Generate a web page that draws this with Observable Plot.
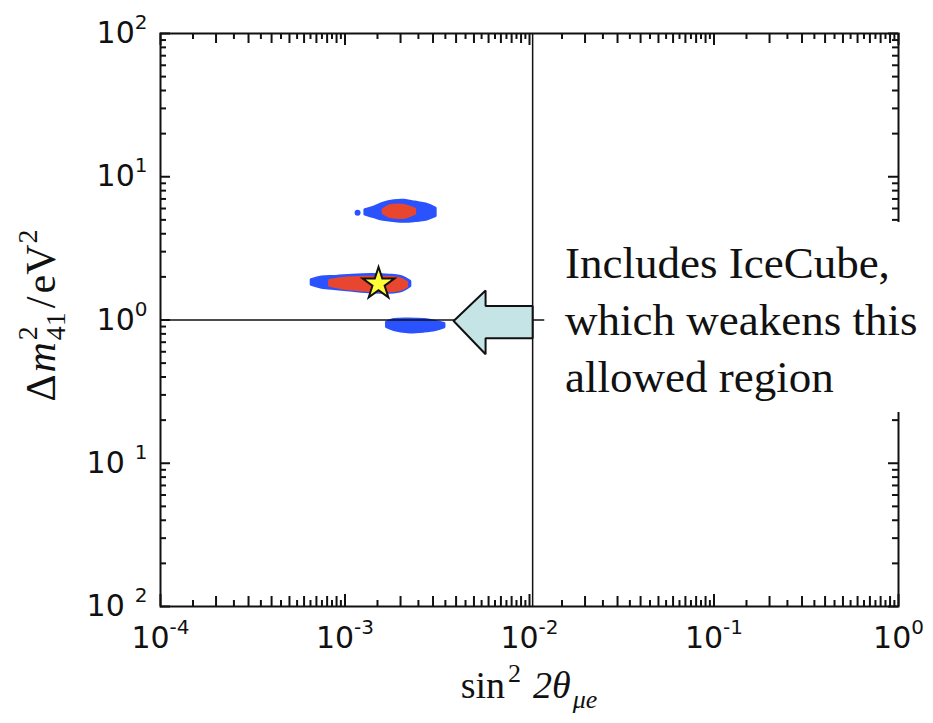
<!DOCTYPE html>
<html>
<head>
<meta charset="utf-8">
<script src="https://cdn.jsdelivr.net/npm/d3@7"></script>
<script src="https://cdn.jsdelivr.net/npm/@observablehq/plot@0.6"></script>
<style>
  html, body { margin: 0; padding: 0; background: #fff; }
  #wrap { position: relative; width: 933px; height: 723px; overflow: hidden; }
  #note {
    position: absolute; left: 548px; top: 222px; width: 385px; height: 190px;
    background: #fff; box-sizing: border-box; padding: 13px 0 0 17px;
    font-family: "Liberation Serif", serif; font-size: 45px; line-height: 57px;
    color: #111; white-space: nowrap;
  }
</style>
</head>
<body>
<div id="wrap">
  <div id="chart"></div>
  <div id="note">Includes IceCube,<br>which weakens this<br>allowed region</div>
</div>
<script>
// Axis decades and their exponent labels
const xDecades = [1e-4, 1e-3, 1e-2, 1e-1, 1];
const xExponents = ["-4", "-3", "-2", "-1", "0"];
const yDecades = [1e2, 1e1, 1e0, 1e-1, 1e-2];
const yExponents = ["2", "1", "0", "\u20021", "\u20022"];
const xMinorSteps = [1.5, 2, 2.5, 3, 3.5, 4, 4.5, 5, 5.5, 6, 6.5, 7, 7.5, 8, 8.5, 9, 9.5];
const yMinorSteps = [2, 3, 4, 5, 6, 7, 8, 9];

// Allowed islands: for each sin²2θ value, lower and upper Δm² edge
// wide (blue) region, upper island near 5.7 eV²
const wideUpperX  = [1.29e-3, 1.45e-3, 1.62e-3, 1.85e-3, 2.1e-3, 2.4e-3, 2.75e-3, 3.1e-3];
const wideUpperLo = [5.45, 5.2, 5.0, 4.9, 4.85, 4.9, 5.0, 5.3];
const wideUpperHi = [5.85, 6.1, 6.5, 6.75, 6.8, 6.6, 6.4, 6.0];
// wide region, island near 1.8 eV²
const wideMidX  = [6.6e-4, 7.5e-4, 9e-4, 1.1e-3, 1.4e-3, 1.75e-3, 2.05e-3, 2.26e-3];
const wideMidLo = [1.76, 1.68, 1.64, 1.6, 1.56, 1.55, 1.6, 1.72];
const wideMidHi = [1.9, 1.98, 2.0, 2.04, 2.06, 2.04, 1.98, 1.85];
// wide region, island near 0.9 eV²
const wideLowX  = [1.69e-3, 1.85e-3, 2.2e-3, 2.7e-3, 3.1e-3, 3.46e-3];
const wideLowLo = [0.89, 0.85, 0.82, 0.83, 0.85, 0.89];
const wideLowHi = [0.96, 1.0, 1.01, 1.0, 0.97, 0.94];
// narrow (red) region, upper island
const coreUpperX  = [1.62e-3, 1.75e-3, 1.95e-3, 2.15e-3, 2.4e-3];
const coreUpperLo = [5.55, 5.25, 5.15, 5.2, 5.5];
const coreUpperHi = [5.85, 6.2, 6.3, 6.2, 5.9];
// narrow region, island near 1.8 eV²
const coreMidX  = [8.3e-4, 1.0e-3, 1.3e-3, 1.7e-3, 2.0e-3, 2.17e-3];
const coreMidLo = [1.73, 1.65, 1.6, 1.58, 1.62, 1.7];
const coreMidHi = [1.87, 1.94, 1.97, 1.97, 1.92, 1.82];
// stray fit points outside the islands
const strayX = [1.17e-3];
const strayY = [5.6];
// best fit
const bestX = [1.52e-3];
const bestY = [1.79];

// annotation: divider line, Δm² = 1 eV² line and the arrow pointing at it
const dividerX = 0.0104;
const levelY = 1;
const levelXEnd = 0.0121;
const arrowX = [3.88e-3, 5.78e-3, 5.78e-3, 0.0104, 0.0104, 5.78e-3, 5.78e-3, 3.88e-3];
const arrowY = [0.984, 1.606, 1.252, 1.252, 0.746, 0.746, 0.577, 0.984];

const BLUE = "#2a52ff";
const RED = "#e8462e";

const band = (xs, lo, hi) => xs.map((x, i) => ({x, lo: lo[i], hi: hi[i]}));
const W = 933, H = 723, mL = 160, mR = 35, mT = 33, mB = 117;
const innerW = W - mL - mR, innerH = H - mT - mB;

const xMinor = xDecades.slice(0, -1).flatMap(d => xMinorSteps.map(k => ({v: d * k, long: Number.isInteger(k)})));
const yMinor = yDecades.slice(1).flatMap(d => yMinorSteps.map(k => d * k));

function island(xs, lo, hi, color) {
  return Plot.areaY(band(xs, lo, hi), {
    x: "x", y1: "lo", y2: "hi", fill: color, stroke: color,
    strokeWidth: 3, strokeLinejoin: "round", curve: "catmull-rom"
  });
}

const tickStyle = {stroke: "#111", strokeWidth: 2};

const chart = Plot.plot({
  width: W, height: H,
  marginLeft: mL, marginRight: mR, marginTop: mT, marginBottom: mB,
  x: {type: "log", domain: [1e-4, 1], axis: null},
  y: {type: "log", domain: [1e-2, 1e2], axis: null},
  style: {background: "white", color: "#111", fontFamily: "DejaVu Sans"},
  marks: [
    island(wideUpperX, wideUpperLo, wideUpperHi, BLUE),
    island(wideMidX, wideMidLo, wideMidHi, BLUE),
    island(wideLowX, wideLowLo, wideLowHi, BLUE),
    Plot.dot(strayX.map((x, i) => ({x, y: strayY[i]})), {x: "x", y: "y", r: 3, fill: BLUE}),
    island(coreUpperX, coreUpperLo, coreUpperHi, RED),
    island(coreMidX, coreMidLo, coreMidHi, RED),

    // annotation lines
    Plot.ruleY([levelY], {x1: 1e-4, x2: levelXEnd, stroke: "#111", strokeWidth: 1.5}),
    Plot.ruleX([dividerX], {stroke: "#111", strokeWidth: 1.5}),
    Plot.line(arrowX.map((x, i) => ({x, y: arrowY[i]})), {
      x: "x", y: "y", fill: "#c5e4e6", stroke: "#111", strokeWidth: 2, strokeLinejoin: "miter"
    }),

    // best-fit point
    Plot.dot(bestX.map((x, i) => ({x, y: bestY[i]})), {
      x: "x", y: "y", symbol: "star", r: 10, fill: "#ffff38", stroke: "#111", strokeWidth: 2
    }),

    Plot.frame({stroke: "#111", strokeWidth: 2}),

    // inward ticks on all four sides
    Plot.ruleX(xDecades, {insetBottom: innerH - 12, ...tickStyle}),
    Plot.ruleX(xDecades, {insetTop: innerH - 12, ...tickStyle}),
    Plot.ruleX(xMinor.filter(t => t.long), {x: "v", insetBottom: innerH - 10, ...tickStyle}),
    Plot.ruleX(xMinor.filter(t => t.long), {x: "v", insetTop: innerH - 10, ...tickStyle}),
    Plot.ruleX(xMinor.filter(t => !t.long), {x: "v", insetBottom: innerH - 6, ...tickStyle}),
    Plot.ruleX(xMinor.filter(t => !t.long), {x: "v", insetTop: innerH - 6, ...tickStyle}),
    Plot.ruleY(yDecades, {insetRight: innerW - 10, ...tickStyle}),
    Plot.ruleY(yDecades, {insetLeft: innerW - 10, ...tickStyle}),
    Plot.ruleY(yMinor, {insetRight: innerW - 6, ...tickStyle}),
    Plot.ruleY(yMinor, {insetLeft: innerW - 6, ...tickStyle}),

    // tick labels (exponent split off below)
    Plot.text(xDecades, {
      x: d => d, text: (d, i) => "10^" + xExponents[i],
      frameAnchor: "bottom", dy: 41, lineAnchor: "bottom",
      fontSize: 30, fontFamily: "DejaVu Sans", fill: "#111"
    }),
    Plot.text(yDecades, {
      y: d => d, text: (d, i) => "10^" + yExponents[i],
      frameAnchor: "left", dx: -13, textAnchor: "end", lineAnchor: "middle",
      fontSize: 30, fontFamily: "DejaVu Sans", fill: "#111"
    })
  ]
});

// turn "10^e" labels into a base with a raised exponent
d3.select(chart).selectAll("text").each(function () {
  const s = this.textContent;
  if (!s.includes("^")) return;
  const [base, exp] = s.split("^");
  const t = d3.select(this);
  t.text(base);
  t.append("tspan").attr("dy", -14).attr("font-size", 20).text(exp);
});

// axis titles
const svg = d3.select(chart);
const xt = svg.append("text")
  .attr("x", mL + innerW / 2).attr("y", H - 25)
  .attr("text-anchor", "middle")
  .attr("font-family", "Liberation Serif, serif").attr("font-size", 38).attr("fill", "#111");
xt.append("tspan").text("sin");
xt.append("tspan").attr("font-size", 26).attr("dy", -16).attr("dx", 3).text("2");
xt.append("tspan").attr("dy", 16).attr("dx", 12).attr("font-style", "italic").text("2θ");
xt.append("tspan").attr("font-size", 26).attr("dy", 10).attr("dx", 2).attr("font-style", "italic").text("μe");

const yt = svg.append("text")
  .attr("transform", `translate(55,${mT + innerH / 2 - 4}) rotate(-90)`)
  .attr("text-anchor", "middle")
  .attr("font-family", "Liberation Serif, serif").attr("font-size", 42).attr("fill", "#111");
yt.append("tspan").text("Δ");
yt.append("tspan").attr("dx", 2).attr("font-style", "italic").text("m");
yt.append("tspan").attr("font-size", 28).attr("dy", -18).attr("dx", 2).text("2");
yt.append("tspan").attr("font-size", 28).attr("dy", 28).attr("dx", -14).text("41");
yt.append("tspan").attr("dy", -10).attr("dx", 4).text("/");
yt.append("tspan").attr("dx", 3).text("eV");
yt.append("tspan").attr("font-size", 28).attr("dy", -18).attr("dx", 1).text("2");

document.getElementById("chart").appendChild(chart);
</script>
</body>
</html>
